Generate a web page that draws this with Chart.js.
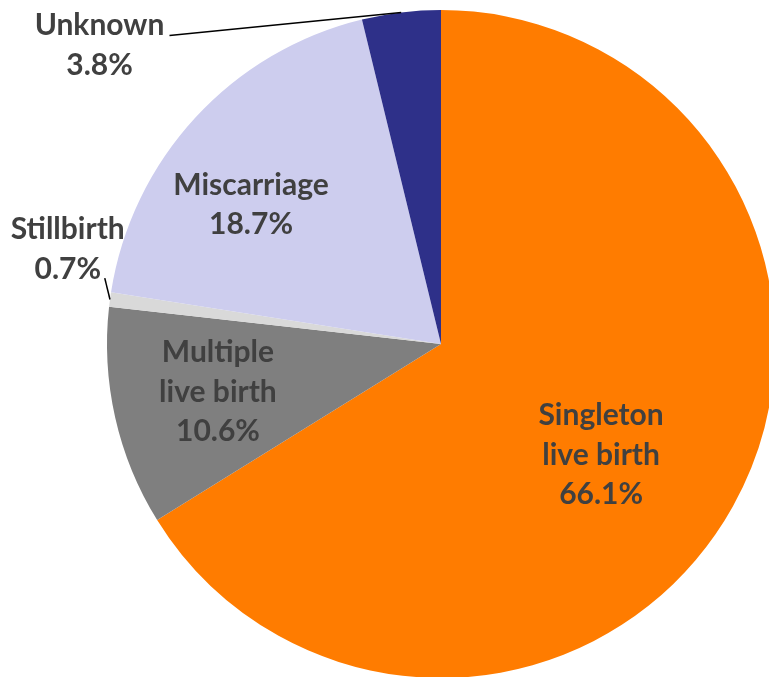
<!DOCTYPE html>
<html>
<head>
<meta charset="utf-8">
<script src="https://cdn.jsdelivr.net/npm/chart.js@4.4.1/dist/chart.umd.min.js"></script>
<style>
  html, body { margin: 0; padding: 0; background: #fff; overflow: hidden; }
  .piechart { position: relative; width: 882px; height: 688px; }
</style>
</head>
<body>
<div class="piechart">
  <canvas id="chart"></canvas>
</div>
<script>
// data (percent of outcomes), clockwise from 12 o'clock
const categories = ['Singleton\nlive birth', 'Multiple\nlive birth', 'Stillbirth', 'Miscarriage', 'Unknown'];
const values = [66.1, 10.6, 0.7, 18.7, 3.8];
const colors = ['#FF7C00', '#7F7F7F', '#D9D9D9', '#CDCDEE', '#2E3089'];

// where each label goes: angle offset from slice middle (deg) and radius factor
const labelPlace = [
  { da: 5.6, r: 0.583 },
  { da: 0.6, r: 0.683 },
  { da: 6.6, r: 1.153, leader: { dx: 37, dy: 29 } },
  { da: -6.4, r: 0.705 },
  { da: -42, r: 1.358, leader: { dx: 70, dy: -10 } },
];

const labelPlugin = {
  id: 'sliceLabels',
  afterDatasetsDraw(chart) {
    const ctx = chart.ctx;
    const meta = chart.getDatasetMeta(0);
    ctx.save();
    ctx.font = 'bold 30px Lato';
    ctx.fillStyle = '#404040';
    ctx.textAlign = 'center';
    ctx.textBaseline = 'middle';
    meta.data.forEach((arc, i) => {
      const p = labelPlace[i];
      const mid = (arc.startAngle + arc.endAngle) / 2;
      const a = mid + p.da * Math.PI / 180;
      const lx = arc.x + Math.cos(a) * arc.outerRadius * p.r;
      const ly = arc.y + Math.sin(a) * arc.outerRadius * p.r;
      const lines = categories[i].split('\n');
      lines.push(values[i].toFixed(1) + '%');
      const lh = 39.5;
      const top = ly - (lines.length - 1) * lh / 2;
      lines.forEach((t, k) => ctx.fillText(t, lx, top + k * lh));

      if (p.leader) {
        const ex = arc.x + Math.cos(mid) * arc.outerRadius;
        const ey = arc.y + Math.sin(mid) * arc.outerRadius;
        ctx.beginPath();
        ctx.strokeStyle = '#000';
        ctx.lineWidth = 1.5;
        ctx.moveTo(lx + p.leader.dx, ly + p.leader.dy);
        ctx.lineTo(ex, ey);
        ctx.stroke();
      }
    });
    ctx.restore();
  }
};

new Chart(document.getElementById('chart'), {
  type: 'pie',
  data: {
    labels: categories,
    datasets: [{
      data: values,
      backgroundColor: colors,
      borderWidth: 0,
    }]
  },
  options: {
    responsive: true,
    maintainAspectRatio: false,
    animation: false,
    layout: { padding: 10 },
    plugins: {
      legend: { display: false },
      tooltip: { enabled: false },
    },
  },
  plugins: [labelPlugin],
});
</script>
</body>
</html>
